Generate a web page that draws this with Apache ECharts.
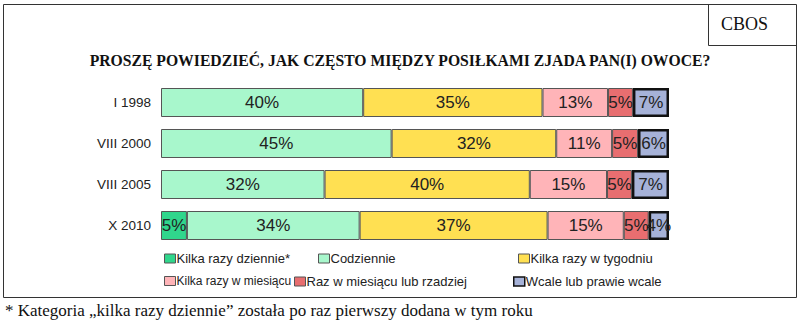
<!DOCTYPE html>
<html>
<head>
<meta charset="utf-8">
<script src="https://cdn.jsdelivr.net/npm/echarts@6/dist/echarts.min.js"></script>
<style>
html,body{margin:0;padding:0;background:#fff;}
#chart{width:800px;height:322px;}
</style>
</head>
<body>
<div id="chart"></div>
<script>
const categories = ['I 1998', 'VIII 2000', 'VIII 2005', 'X 2010'];
const seriesNames = ['Kilka razy dziennie*', 'Codziennie', 'Kilka razy w tygodniu', 'Kilka razy w miesiącu', 'Raz w miesiącu lub rzadziej', 'Wcale lub prawie wcale'];
// values per answer category, one entry per survey
const kilkaRazyDziennie = [null, null, null, 5.1];
const codziennie = [39.8, 45.4, 32.2, 34.0];
const kilkaRazyWTygodniu = [35.3, 32.4, 40.4, 37.0];
const kilkaRazyWMiesiacu = [12.9, 11.0, 15.2, 15.0];
const razWMiesiacu = [4.9, 5.1, 4.9, 4.9];
const wcale = [7.1, 6.1, 7.3, 4.0];
const titleText = 'PROSZĘ POWIEDZIEĆ, JAK CZĘSTO MIĘDZY POSIŁKAMI ZJADA PAN(I) OWOCE?';
const footnoteText = '* Kategoria \u201Ekilka razy dziennie\u201D została po raz pierwszy dodana w tym roku';
const sourceText = 'CBOS';

const values = [kilkaRazyDziennie, codziennie, kilkaRazyWTygodniu, kilkaRazyWMiesiacu, razWMiesiacu, wcale];
const colors = ['#30d68c', '#a8f7cc', '#ffe052', '#ffb4b8', '#e86e70', '#a6b2d8'];
const borders = ['#555', '#555', '#555', '#555', '#555', '#111'];
const borderWidths = [1, 1, 1, 1, 1, 2.5];

const chart = echarts.init(document.getElementById('chart'), null, {renderer: 'svg'});

const series = seriesNames.map((name, i) => ({
  name: name,
  type: 'bar',
  stack: 'total',
  barWidth: 29,
  data: values[i].map(v => v == null ? '-' : v),
  itemStyle: {color: colors[i], borderColor: borders[i], borderWidth: borderWidths[i]},
  label: {
    show: true,
    position: 'inside',
    fontFamily: 'Liberation Sans',
    fontSize: 17,
    color: '#222',
    formatter: p => (p.value == null || p.value === '-') ? '' : Math.round(p.value) + '%'
  },
  emphasis: {disabled: true}
}));

// legend placement (one legend per item to reproduce the irregular layout)
const legendPos = [[164, 252], [318, 252], [518, 252], [164, 275], [294, 275], [513, 275]];
const legendFont = [13, 13, 13, 12, 13, 13];
const legends = seriesNames.map((name, i) => ({
  data: [{name: name, icon: 'rect'}],
  left: legendPos[i][0],
  top: legendPos[i][1],
  itemWidth: 11,
  itemHeight: 9,
  itemGap: 0,
  padding: 0,
  selectedMode: false,
  textStyle: {fontFamily: 'Liberation Sans', fontSize: legendFont[i], color: '#222', padding: [0, 0, 0, -4]},
  itemStyle: {borderColor: i === 5 ? '#111' : '#555', borderWidth: i === 5 ? 1.5 : 1}
}));

chart.setOption({
  animation: false,
  color: colors,
  title: {
    text: titleText,
    left: 'center',
    top: 47,
    textStyle: {fontFamily: 'Liberation Serif', fontWeight: 'bold', fontSize: 15.7, color: '#111'}
  },
  legend: legends,
  grid: {left: 161, right: 131, top: 82, height: 164, containLabel: false},
  xAxis: {
    type: 'value', min: 0, max: 100,
    show: false
  },
  yAxis: {
    type: 'category',
    data: categories,
    inverse: true,
    axisLine: {show: false},
    axisTick: {show: false},
    axisLabel: {fontFamily: 'Liberation Sans', fontSize: 13.5, color: '#222', margin: 10}
  },
  graphic: [
    {type: 'rect', shape: {x: 3.5, y: 4.5, width: 793, height: 293}, style: {fill: 'none', stroke: '#333', lineWidth: 1}, silent: true, z: -1},
    {type: 'polyline', shape: {points: [[708.5, 4.5], [708.5, 45.5], [796.5, 45.5]]}, style: {fill: 'none', stroke: '#333', lineWidth: 1}, silent: true},
    {type: 'text', left: 721, top: 15, style: {text: sourceText, font: '18px "Liberation Serif"', fill: '#111'}},
    {type: 'text', left: 5, top: 302, style: {text: footnoteText, font: '17px "Liberation Serif"', fill: '#111'}}
  ],
  series: series
});
</script>
</body>
</html>
